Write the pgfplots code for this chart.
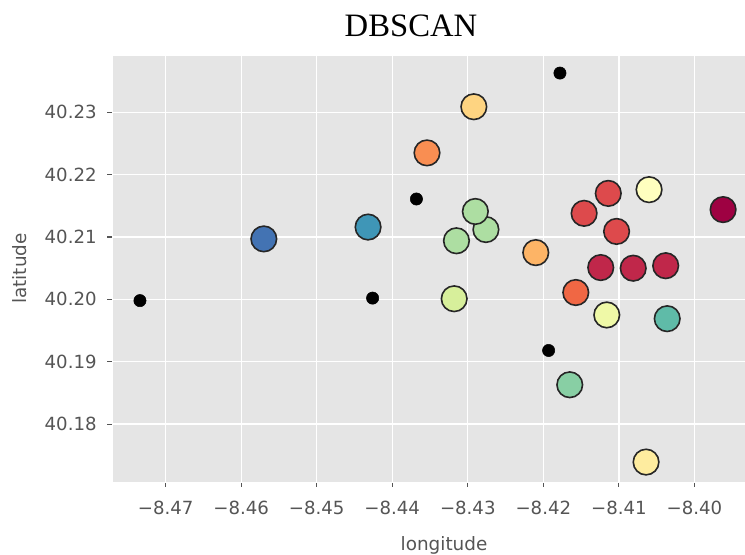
\documentclass[border=0pt]{standalone}
\usepackage{fontspec}
\setmainfont{DejaVu Sans}
\newfontfamily\titlefont{Liberation Serif}
\usepackage{pgfplots}
\pgfplotsset{compat=1.18}
\definecolor{bg}{HTML}{E5E5E5}
\definecolor{txt}{HTML}{555555}
\definecolor{c0}{HTML}{9E0142}
\definecolor{c1}{HTML}{C0274A}
\definecolor{c2}{HTML}{DD4A4C}
\definecolor{c3}{HTML}{F06744}
\definecolor{c4}{HTML}{F98E52}
\definecolor{c5}{HTML}{FDB466}
\definecolor{c6}{HTML}{FED481}
\definecolor{c7}{HTML}{FEEC9F}
\definecolor{c8}{HTML}{FFFFBF}
\definecolor{c9}{HTML}{EFF9A7}
\definecolor{c10}{HTML}{D7EF9B}
\definecolor{c11}{HTML}{ADDEA2}
\definecolor{c12}{HTML}{88CFA4}
\definecolor{c13}{HTML}{5FBBA8}
\definecolor{c14}{HTML}{3F96B7}
\definecolor{c15}{HTML}{4373B3}
\pgfplotsset{
  core/.style={only marks, mark=*, mark size=9.6pt, mark options={fill=#1, draw=black!85, line width=1.2pt}},
}
\begin{document}
\begin{tikzpicture}
\begin{axis}[
  at={(0,0)}, anchor=south west,
  scale only axis, width=474.75pt, height=320.25pt,
  xmin=-8.4771, xmax=-8.3933, ymin=40.1707, ymax=40.2392,
  axis background/.style={fill=bg},
  axis line style={white},
  grid=major, major grid style={white, line width=1pt},
  xtick={-8.47,-8.46,-8.45,-8.44,-8.43,-8.42,-8.41,-8.40},
  xticklabels={−8.47,−8.46,−8.45,−8.44,−8.43,−8.42,−8.41,−8.40},
  ytick={40.18,40.19,40.20,40.21,40.22,40.23},
  yticklabels={40.18,40.19,40.20,40.21,40.22,40.23},
  xtick pos=bottom, ytick pos=left,
  tick align=outside, major tick length=3.5pt,
  tick style={color=txt, line width=0.8pt},
  ticklabel style={font=\fontsize{13.6}{16}\selectfont, text=txt},
  xticklabel style={yshift=-7pt},
  yticklabel style={xshift=-4.5pt},
  label style={font=\fontsize{13.8}{16}\selectfont, text=txt},
  xlabel={longitude}, ylabel={latitude},
  xlabel style={at={(axis description cs:0.5245,0)}, anchor=center, yshift=-47.5pt},
  ylabel style={at={(axis description cs:0,0.5)}, anchor=center, yshift=69pt},
]
\addplot[core=c0] coordinates {(-8.3962,40.2144)};
\addplot[core=c1] coordinates {(-8.4124,40.2051) (-8.4081,40.2050) (-8.4038,40.2054)};
\addplot[core=c2] coordinates {(-8.4114,40.2170) (-8.4146,40.2138) (-8.4103,40.2109)};
\addplot[core=c3] coordinates {(-8.4157,40.2011)};
\addplot[core=c4] coordinates {(-8.4354,40.2235)};
\addplot[core=c5] coordinates {(-8.4210,40.2075)};
\addplot[core=c6] coordinates {(-8.4292,40.2309)};
\addplot[core=c7] coordinates {(-8.4064,40.1739)};
\addplot[core=c8] coordinates {(-8.4060,40.2176)};
\addplot[core=c9] coordinates {(-8.4116,40.1975)};
\addplot[core=c10] coordinates {(-8.4318,40.2001)};
\addplot[core=c11] coordinates {(-8.4315,40.2094) (-8.4276,40.2112) (-8.4290,40.2141)};
\addplot[core=c12] coordinates {(-8.4165,40.1863)};
\addplot[core=c13] coordinates {(-8.4036,40.1969)};
\addplot[core=c14] coordinates {(-8.4432,40.2116)};
\addplot[core=c15] coordinates {(-8.4570,40.2097)};
\addplot[only marks, mark=*, mark size=4.6pt, mark options={fill=black, draw=black}] coordinates {
  (-8.4178,40.2363) (-8.4368,40.2161) (-8.4734,40.1998) (-8.4426,40.2002) (-8.4193,40.1918)};
\end{axis}
\node[anchor=base, font=\titlefont\fontsize{24.5}{28}\selectfont] at (224.25pt,333.75pt) {DBSCAN};
\pgfresetboundingbox
\path[use as bounding box] (-84pt,-54pt) rectangle (474.75pt,361.5pt);
\end{tikzpicture}
\end{document}
